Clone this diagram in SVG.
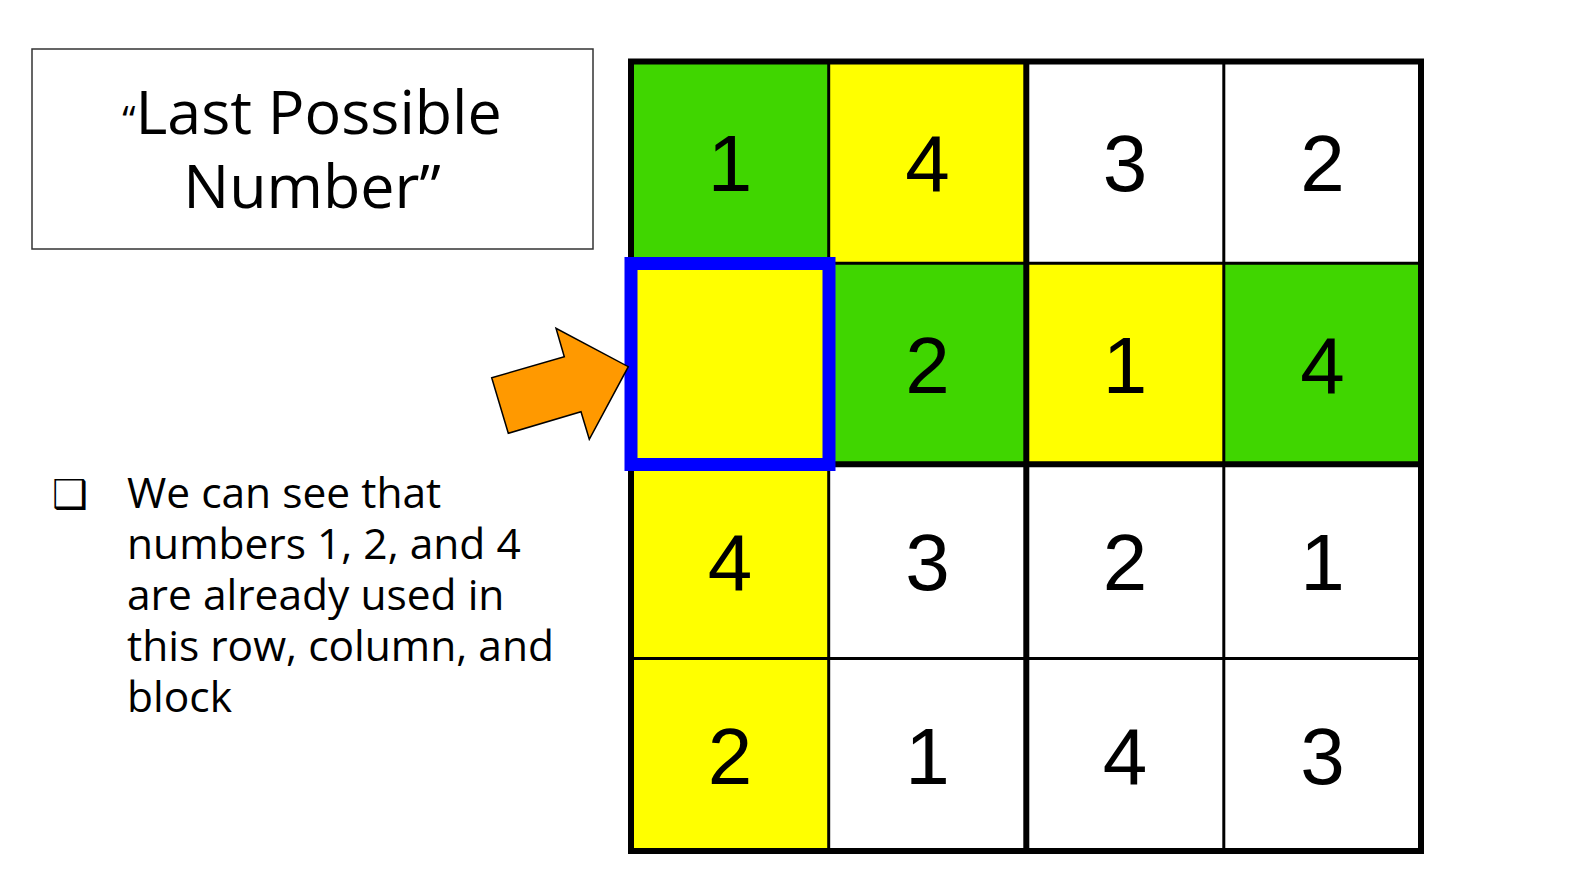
<svg xmlns="http://www.w3.org/2000/svg" width="1577" height="889" viewBox="0 0 1577 889">
<style>
.g{fill:#40d600}.y{fill:#ffff00}.w{fill:#ffffff}
.d{font-family:"Liberation Sans",Arial,sans-serif;font-size:80px;fill:#000;text-anchor:middle}
.thin{stroke:#000;stroke-width:3;fill:none}
.thick{stroke:#000;stroke-width:6;fill:none}
.os{font-family:"Open Sans","Noto Sans",sans-serif;fill:#000}
</style>
<rect width="1577" height="889" fill="#fff"/>
<g id="title">
<rect x="32" y="49" width="561" height="200" fill="#fff" stroke="#333" stroke-width="1.5"/>
<text class="os" font-size="61" text-anchor="middle" x="312" y="134"><tspan font-size="38">“</tspan>Last Possible</text>
<text class="os" font-size="61" text-anchor="middle" x="312" y="208">Number”</text>
</g>
<g id="bullet">
<text x="52" y="508" font-family="DejaVu Sans,sans-serif" font-size="40" font-weight="bold" fill="#000">❑</text>
<text class="os" font-size="42.5" x="127">
<tspan x="127" y="508">We can see that</tspan>
<tspan x="127" y="559">numbers 1, 2, and 4</tspan>
<tspan x="127" y="610">are already used in</tspan>
<tspan x="127" y="661">this row, column, and</tspan>
<tspan x="127" y="712">block</tspan>
</text>
</g>
<g id="grid">
<g id="cells">
<rect class="g" x="631" y="61.5" width="197.7" height="201.8"/>
<rect class="y" x="828.7" y="61.5" width="197.6" height="201.8"/>
<rect class="w" x="1026.3" y="61.5" width="197.5" height="201.8"/>
<rect class="w" x="1223.8" y="61.5" width="197.2" height="201.8"/>
<rect class="y" x="631" y="263.3" width="197.7" height="201"/>
<rect class="g" x="828.7" y="263.3" width="197.6" height="201"/>
<rect class="y" x="1026.3" y="263.3" width="197.5" height="201"/>
<rect class="g" x="1223.8" y="263.3" width="197.2" height="201"/>
<rect class="y" x="631" y="464.3" width="197.7" height="194.2"/>
<rect class="w" x="828.7" y="464.3" width="197.6" height="194.2"/>
<rect class="w" x="1026.3" y="464.3" width="197.5" height="194.2"/>
<rect class="w" x="1223.8" y="464.3" width="197.2" height="194.2"/>
<rect class="y" x="631" y="658.5" width="197.7" height="192.5"/>
<rect class="w" x="828.7" y="658.5" width="197.6" height="192.5"/>
<rect class="w" x="1026.3" y="658.5" width="197.5" height="192.5"/>
<rect class="w" x="1223.8" y="658.5" width="197.2" height="192.5"/>
</g>
<g id="lines">
<line class="thin" x1="828.7" y1="61.5" x2="828.7" y2="851"/>
<line class="thin" x1="1223.8" y1="61.5" x2="1223.8" y2="851"/>
<line class="thin" x1="631" y1="263.3" x2="1421" y2="263.3"/>
<line class="thin" x1="631" y1="658.5" x2="1421" y2="658.5"/>
<line class="thick" x1="1026.3" y1="61.5" x2="1026.3" y2="851"/>
<line class="thick" x1="631" y1="464.3" x2="1421" y2="464.3"/>
<rect class="thick" x="631" y="61.5" width="790" height="789.5"/>
</g>
<g id="digits">
<text class="d" x="730" y="191">1</text>
<text class="d" x="927.5" y="191">4</text>
<text class="d" x="1125" y="191">3</text>
<text class="d" x="1322.4" y="191">2</text>
<text class="d" x="927.5" y="392.5">2</text>
<text class="d" x="1125" y="392.5">1</text>
<text class="d" x="1322.4" y="392.5">4</text>
<text class="d" x="730" y="590">4</text>
<text class="d" x="927.5" y="590">3</text>
<text class="d" x="1125" y="590">2</text>
<text class="d" x="1322.4" y="590">1</text>
<text class="d" x="730" y="783.5">2</text>
<text class="d" x="927.5" y="783.5">1</text>
<text class="d" x="1125" y="783.5">4</text>
<text class="d" x="1322.4" y="783.5">3</text>
</g>
</g>
<g id="highlight">
<rect x="631" y="263.5" width="198" height="201" fill="none" stroke="#0000ff" stroke-width="13"/>
</g>
<g id="arrow">
<polygon points="508.3,433.3 491.7,377.7 564.3,356.7 556,328.3 628.3,366.7 589.3,439.3 581,411.7" fill="#ff9900" stroke="#000" stroke-width="1.5" stroke-linejoin="miter"/>
</g>
</svg>
